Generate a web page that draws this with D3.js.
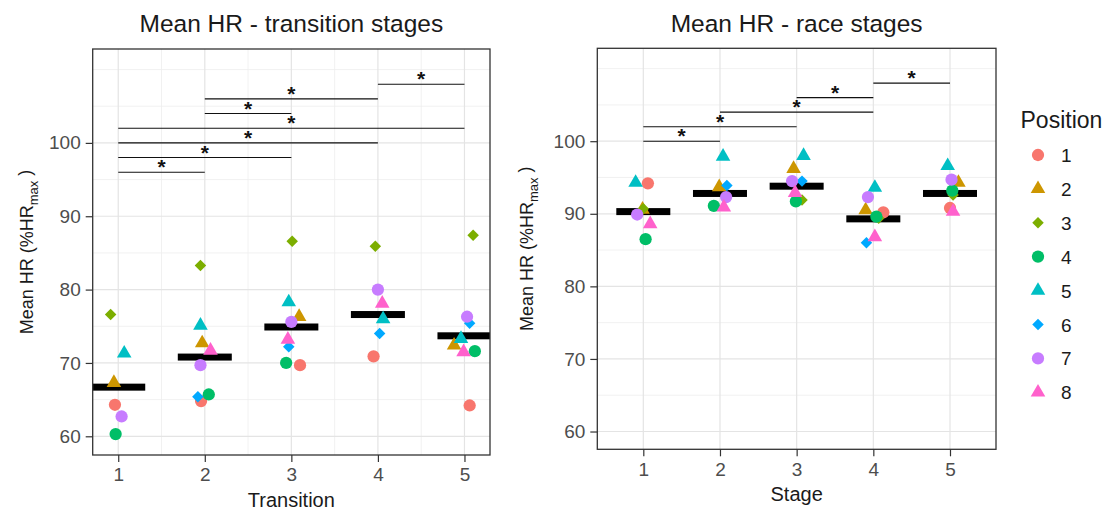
<!DOCTYPE html>
<html>
<head>
<meta charset="utf-8">
<script src="https://cdn.jsdelivr.net/npm/d3@7"></script>
<style>
  html, body { margin: 0; padding: 0; background: #fff; }
  svg { display: block; font-family: "Liberation Sans", Arial, sans-serif; }
</style>
</head>
<body>
<svg id="chart" width="1112" height="511"></svg>
<script>
// ---- data -------------------------------------------------------------
const positions = ["1", "2", "3", "4", "5", "6", "7", "8"];
const positionColors = ["#F8766D", "#CD9600", "#7CAE00", "#00BE67", "#00BFC4", "#00A9FF", "#C77CFF", "#FF61CC"];
const positionShapes = ["circle", "triangle", "diamond", "circle", "triangle", "diamond", "circle", "triangle"];

const stageTicks = [1, 2, 3, 4, 5];
const hrTicks = [60, 70, 80, 90, 100];

// transition stages: [position, jittered stage, mean HR (%HRmax)]
const transitionPoints = [
  [3, 0.912, 76.6], [5, 1.069, 71.3], [2, 0.950, 67.3], [1, 0.962, 64.3], [7, 1.039, 62.7], [4, 0.970, 60.3],
  [3, 1.950, 83.3], [5, 1.950, 75.1], [2, 1.970, 72.7], [8, 2.066, 71.7], [7, 1.950, 69.7], [6, 1.920, 65.4], [4, 2.046, 65.7], [1, 1.957, 64.8],
  [3, 3.010, 86.6], [5, 2.970, 78.3], [2, 3.090, 76.3], [7, 3.000, 75.6], [8, 2.960, 73.2], [6, 2.970, 72.2], [4, 2.940, 70.0], [1, 3.100, 69.7],
  [3, 3.970, 85.9], [7, 4.000, 80.0], [8, 4.050, 78.1], [5, 4.060, 76.0], [6, 4.020, 74.0], [1, 3.950, 70.9],
  [3, 5.100, 87.4], [7, 5.030, 76.3], [6, 5.060, 75.4], [5, 4.960, 73.3], [2, 4.880, 72.4], [4, 5.120, 71.6], [8, 4.990, 71.5], [1, 5.060, 64.2]
];
const transitionMeans = [66.7, 70.8, 74.9, 76.6, 73.7];
const transitionSigFrom = [1, 1, 1, 1, 2, 2, 4];
const transitionSigTo   = [2, 3, 4, 5, 3, 4, 5];
const transitionSigY    = [96, 98, 100, 102, 104, 106, 108];

// race stages: [position, jittered stage, mean HR (%HRmax)]
const racePoints = [
  [1, 1.06, 94.2], [2, 0.99, 90.6], [3, 1.00, 90.7], [4, 1.03, 86.5], [5, 0.90, 94.3], [7, 0.92, 89.9], [8, 1.09, 88.6],
  [2, 1.99, 93.7], [4, 1.92, 91.1], [5, 2.04, 97.9], [6, 2.09, 93.9], [7, 2.08, 92.3], [8, 2.05, 90.9],
  [2, 2.96, 96.2], [3, 3.07, 91.9], [4, 2.99, 91.7], [5, 3.09, 98.0], [6, 3.07, 94.5], [7, 2.94, 94.5], [8, 2.98, 92.9],
  [1, 4.13, 90.2], [2, 3.90, 90.5], [3, 4.07, 89.4], [4, 4.04, 89.6], [5, 4.02, 93.6], [6, 3.91, 86.0], [7, 3.93, 92.3], [8, 4.02, 86.8],
  [1, 5.00, 90.8], [2, 5.11, 94.3], [3, 5.04, 92.6], [4, 5.03, 93.2], [5, 4.97, 96.6], [7, 5.02, 94.7], [8, 5.04, 90.3]
];
const raceMeans = [90.3, 92.8, 93.8, 89.3, 92.8];
const raceSigFrom = [1, 1, 2, 3, 4];
const raceSigTo   = [2, 3, 4, 4, 5];
const raceSigY    = [100, 102, 104, 106, 108];

// ---- drawing helpers ---------------------------------------------------
const svg = d3.select("#chart");
svg.append("rect").attr("width", 1112).attr("height", 511).attr("fill", "#fff");

const symbolTypes = {
  circle: { type: d3.symbolCircle, size: 118, rotate: 0 },
  triangle: { type: d3.symbolTriangle, size: 92, rotate: 0 },
  diamond: { type: d3.symbolSquare, size: 66, rotate: 45 }
};
function symbolPath(shape) {
  const s = symbolTypes[shape];
  return d3.symbol().type(s.type).size(s.size)();
}

function drawPanel(cfg) {
  const g = svg.append("g");
  const x = d3.scaleLinear().domain(cfg.xDomain).range([cfg.left, cfg.right]);
  const y = d3.scaleLinear().domain(cfg.yDomain).range([cfg.bottom, cfg.top]);

  const clipId = "clip-" + cfg.id;
  svg.append("defs").append("clipPath").attr("id", clipId)
    .append("rect").attr("x", cfg.left).attr("y", cfg.top)
    .attr("width", cfg.right - cfg.left).attr("height", cfg.bottom - cfg.top);

  // grid
  const grid = g.append("g");
  const yMinor = d3.range(55, 115, 5).filter(v => !hrTicks.includes(v) && v > cfg.yDomain[0] && v < cfg.yDomain[1]);
  grid.selectAll(".ymin").data(yMinor).join("line")
    .attr("x1", cfg.left).attr("x2", cfg.right)
    .attr("y1", d => y(d)).attr("y2", d => y(d))
    .attr("stroke", "#EEEEEE").attr("stroke-width", 0.8);
  if (cfg.xMinor) {
    const xMinor = stageTicks.slice(1).map(v => v - 0.5);
    grid.selectAll(".xmin").data(xMinor).join("line")
      .attr("y1", cfg.top).attr("y2", cfg.bottom)
      .attr("x1", d => x(d)).attr("x2", d => x(d))
      .attr("stroke", "#EEEEEE").attr("stroke-width", 0.8);
  }
  grid.selectAll(".ymaj").data(hrTicks).join("line")
    .attr("x1", cfg.left).attr("x2", cfg.right)
    .attr("y1", d => y(d)).attr("y2", d => y(d))
    .attr("stroke", "#E4E4E4").attr("stroke-width", 1.2);
  grid.selectAll(".xmaj").data(stageTicks).join("line")
    .attr("y1", cfg.top).attr("y2", cfg.bottom)
    .attr("x1", d => x(d)).attr("x2", d => x(d))
    .attr("stroke", "#E4E4E4").attr("stroke-width", 1.2);

  const plot = g.append("g").attr("clip-path", `url(#${clipId})`);

  // significance brackets
  const sig = cfg.sigFrom.map((a, i) => ({ a, b: cfg.sigTo[i], v: cfg.sigY[i] }));
  plot.selectAll(".sigline").data(sig).join("line")
    .attr("x1", d => x(d.a)).attr("x2", d => x(d.b))
    .attr("y1", d => y(d.v)).attr("y2", d => y(d.v))
    .attr("stroke", "#111").attr("stroke-width", 1.1);
  plot.selectAll(".sigstar").data(sig).join("text")
    .attr("x", d => x((d.a + d.b) / 2))
    .attr("y", d => y(d.v) + 2)
    .attr("text-anchor", "middle")
    .attr("font-size", 21).attr("font-weight", "bold").attr("fill", "#111")
    .text("*");

  // mean bars
  plot.selectAll(".mean").data(cfg.means).join("rect")
    .attr("x", (d, i) => x(stageTicks[i]) - 27)
    .attr("y", d => y(d) - 3.5)
    .attr("width", 54).attr("height", 7)
    .attr("fill", "#000");

  // individual points, later positions on top
  const pts = cfg.points.map(p => ({ pos: p[0], sx: p[1], hr: p[2] }))
    .sort((a, b) => a.pos - b.pos);
  plot.selectAll(".pt").data(pts).join("path")
    .attr("d", d => symbolPath(positionShapes[d.pos - 1]))
    .attr("transform", d => `translate(${x(d.sx)},${y(d.hr)}) rotate(${symbolTypes[positionShapes[d.pos - 1]].rotate})`)
    .attr("fill", d => positionColors[d.pos - 1]);

  // panel border
  g.append("rect").attr("x", cfg.left).attr("y", cfg.top)
    .attr("width", cfg.right - cfg.left).attr("height", cfg.bottom - cfg.top)
    .attr("fill", "none").attr("stroke", "#333").attr("stroke-width", 1.3);

  // axes
  const yAxis = g.append("g").attr("transform", `translate(${cfg.left},0)`)
    .call(d3.axisLeft(y).tickValues(hrTicks).tickSize(7).tickPadding(5).tickSizeOuter(0));
  const xAxis = g.append("g").attr("transform", `translate(0,${cfg.bottom})`)
    .call(d3.axisBottom(x).tickValues(stageTicks).tickFormat(d3.format("d")).tickSize(7).tickPadding(6).tickSizeOuter(0));
  [yAxis, xAxis].forEach(ax => {
    ax.select(".domain").remove();
    ax.selectAll(".tick line").attr("stroke", "#333").attr("stroke-width", 1.2);
    ax.selectAll(".tick text").attr("font-size", 19).attr("fill", "#4D4D4D")
      .attr("font-family", "Liberation Sans, Arial, sans-serif");
  });

  // titles
  g.append("text").attr("x", (cfg.left + cfg.right) / 2).attr("y", 31.5)
    .attr("text-anchor", "middle").attr("font-size", 24.5).attr("fill", "#1a1a1a")
    .text(cfg.title);
  g.append("text").attr("x", (cfg.left + cfg.right) / 2).attr("y", cfg.bottom + 51.5)
    .attr("text-anchor", "middle").attr("font-size", 20).attr("fill", "#1a1a1a")
    .text(cfg.xTitle);
  const yt = g.append("text")
    .attr("transform", `translate(${cfg.yTitleX},${(cfg.top + cfg.bottom) / 2}) rotate(-90)`)
    .attr("text-anchor", "middle").attr("font-size", 18).attr("fill", "#1a1a1a");
  yt.append("tspan").text("Mean HR (%HR");
  yt.append("tspan").attr("font-size", 13).attr("dy", "0.35em").text("max");
  yt.append("tspan").attr("dy", "-0.35em").text(" )");
}

drawPanel({
  id: "transition", title: "Mean HR - transition stages", xTitle: "Transition",
  left: 92.7, right: 490, top: 49, bottom: 455,
  xDomain: [0.705, 5.295], yDomain: [57.45, 112.8], xMinor: true, yTitleX: 33,
  points: transitionPoints, means: transitionMeans,
  sigFrom: transitionSigFrom, sigTo: transitionSigTo, sigY: transitionSigY
});
drawPanel({
  id: "race", title: "Mean HR - race stages", xTitle: "Stage",
  left: 597.3, right: 996, top: 48.3, bottom: 449.3,
  xDomain: [0.4, 5.6], yDomain: [57.55, 112.8], xMinor: false, yTitleX: 533,
  points: racePoints, means: raceMeans,
  sigFrom: raceSigFrom, sigTo: raceSigTo, sigY: raceSigY
});

// legend
const legend = svg.append("g");
legend.append("text").attr("x", 1020.5).attr("y", 128)
  .attr("font-size", 23).attr("fill", "#1a1a1a").text("Position");
const items = legend.selectAll(".item").data(positions).join("g")
  .attr("transform", (d, i) => `translate(1038,${155 + i * 33.9})`);
items.append("path")
  .attr("d", (d, i) => symbolPath(positionShapes[i]))
  .attr("transform", (d, i) => `rotate(${symbolTypes[positionShapes[i]].rotate})`)
  .attr("fill", (d, i) => positionColors[i]);
items.append("text").attr("x", 23).attr("y", 7)
  .attr("font-size", 19).attr("fill", "#1a1a1a").text(d => d);
</script>
</body>
</html>
